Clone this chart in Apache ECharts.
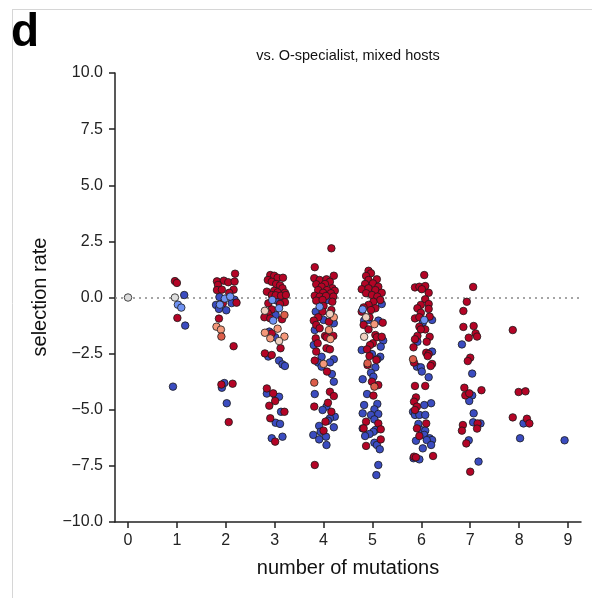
<!DOCTYPE html>
<html>
<head>
<meta charset="utf-8">
<script src="https://cdn.jsdelivr.net/npm/echarts@6/dist/echarts.min.js"></script>
<style>
html,body{margin:0;padding:0;background:#fff;}
#chart{width:592px;height:598px;}
</style>
</head>
<body>
<div id="chart"></div>
<script>
// x tick categories (number of mutations)
const xTicks = [0,1,2,3,4,5,6,7,8,9];
const yTicks = [-10,-7.5,-5,-2.5,0,2.5,5,7.5,10];

// points: [jittered number of mutations, selection rate], grouped by colour class
const redPts = [
[0.96,0.73],[1.0,0.65],[1.01,-0.91],
[2.19,1.06],[1.82,0.72],[1.96,0.75],[2.05,0.68],[2.18,0.71],[1.84,0.56],[1.82,0.33],[1.92,0.35],[2.16,0.35],[2.07,0.21],[2.22,-0.23],[1.94,-0.26],[1.86,-0.94],[2.16,-2.17],[1.91,-3.88],[2.14,-3.84],[2.06,-5.55],
[2.91,1.00],[2.99,0.97],[3.06,0.88],[3.17,0.88],[2.86,0.78],[2.94,0.70],[3.03,0.60],[3.11,0.54],[3.16,0.41],[2.84,0.26],[2.99,0.30],[3.06,0.23],[3.21,0.21],[2.94,0.11],[3.02,0.10],[3.13,0.08],[3.23,0.11],[3.21,-0.21],[2.87,-0.26],[3.11,-0.29],[2.94,-0.53],[2.86,-0.70],[2.79,-0.88],[2.91,-0.93],[3.15,-0.97],[2.94,-1.60],[3.12,-2.26],[2.80,-2.49],[2.94,-2.56],[2.84,-4.05],[2.97,-4.27],[3.01,-4.61],[2.89,-4.82],[3.20,-5.09],[2.91,-5.38],[3.01,-6.42],
[4.16,2.19],[3.82,1.35],[3.81,0.86],[4.21,0.97],[3.92,0.78],[4.06,0.81],[4.13,0.70],[3.85,0.59],[4.03,0.60],[3.96,0.48],[4.18,0.41],[3.89,0.33],[4.07,0.33],[4.23,0.30],[3.99,0.21],[4.15,0.19],[3.82,0.08],[3.92,0.04],[4.05,0.07],[4.20,0.04],[3.85,-0.14],[3.98,-0.11],[4.18,-0.19],[4.0,-0.38],[4.16,-0.56],[3.98,-0.63],[3.89,-0.88],[3.80,-1.03],[4.11,-1.08],[3.85,-1.22],[3.92,-1.37],[4.03,-1.71],[4.20,-1.71],[3.84,-1.82],[4.06,-1.77],[3.88,-2.04],[4.06,-2.26],[4.13,-2.31],[3.85,-2.41],[3.82,-2.81],[4.07,-3.30],[4.13,-4.20],[4.21,-4.39],[3.81,-4.86],[4.09,-4.69],[4.16,-5.09],[4.04,-5.53],[4.00,-5.93],[3.82,-7.46],
[4.92,1.19],[4.97,1.08],[4.87,0.96],[5.09,0.81],[4.92,0.78],[4.85,0.60],[5.01,0.63],[5.12,0.48],[4.78,0.37],[4.92,0.41],[5.06,0.33],[5.19,0.21],[4.87,0.19],[4.99,0.11],[5.10,0.04],[5.16,-0.11],[5.02,-0.19],[4.92,-0.33],[4.82,-0.44],[5.06,-0.48],[4.97,-0.56],[4.78,-0.63],[4.94,-0.88],[5.21,-1.12],[4.82,-1.22],[4.92,-1.42],[5.06,-1.67],[5.09,-1.77],[5.19,-1.75],[5.01,-2.04],[4.95,-2.12],[4.89,-2.31],[4.94,-2.61],[5.08,-2.78],[4.90,-3.01],[4.99,-3.75],[5.12,-3.90],[5.02,-4.37],[4.87,-5.53],[4.82,-5.83],[5.12,-5.61],[5.17,-5.87],[5.17,-6.32],[4.87,-6.61],
[6.06,1.00],[5.87,0.45],[5.96,0.48],[6.08,0.51],[6.01,0.37],[6.15,0.21],[6.08,-0.08],[6.15,-0.29],[5.99,-0.33],[5.92,-0.48],[6.15,-0.51],[5.99,-0.68],[5.87,-0.93],[6.17,-0.85],[5.96,-0.88],[5.96,-1.30],[6.08,-1.42],[5.99,-1.42],[5.92,-1.71],[6.17,-1.75],[5.87,-1.86],[6.11,-1.97],[5.84,-2.22],[6.10,-2.46],[6.15,-2.52],[6.13,-2.61],[5.85,-2.90],[6.22,-2.96],[6.19,-3.05],[5.87,-3.94],[6.08,-3.94],[5.89,-4.45],[5.85,-4.64],[5.91,-4.86],[5.87,-5.01],[6.10,-5.61],[5.91,-5.83],[5.96,-6.17],[5.85,-7.09],[5.89,-7.12],[6.24,-7.06],
[7.06,0.47],[6.93,-0.19],[6.86,-0.60],[6.86,-1.31],[7.07,-1.27],[6.97,-1.79],[7.11,-1.60],[7.14,-1.74],[7.00,-2.68],[6.95,-2.83],[6.88,-4.02],[6.90,-4.36],[6.98,-4.27],[7.23,-4.13],[6.85,-5.68],[6.83,-5.93],[7.15,-5.61],[7.14,-5.84],[6.92,-6.50],[7.00,-7.76],
[7.87,-1.45],[7.99,-4.21],[8.13,-4.18],[7.87,-5.34],[8.16,-5.40],[8.21,-5.61]
];
const bluePts = [
[1.17,-1.25],[0.92,-3.97],[1.15,0.11],
[1.87,0.02],[2.18,-0.10],[2.12,-0.25],[1.80,-0.33],[1.86,-0.51],[2.01,-0.57],[1.97,-3.81],[1.92,-4.02],[2.02,-4.71],
[3.05,-0.14],[3.16,-0.13],[3.02,-0.78],[2.89,-1.52],[3.01,-1.77],[2.87,-2.63],[3.09,-2.81],[3.16,-2.98],[3.21,-3.05],[2.84,-4.28],[3.02,-4.42],[3.09,-4.42],[3.13,-5.09],[3.02,-5.58],[3.11,-5.63],[2.94,-6.27],[3.16,-6.20],
[4.09,-0.11],[3.84,-0.63],[4.00,-1.00],[4.21,-1.15],[3.82,-1.45],[3.80,-2.12],[3.96,-2.64],[4.21,-2.75],[3.89,-2.90],[4.13,-2.89],[3.96,-3.08],[4.17,-3.41],[4.21,-3.75],[3.82,-4.30],[4.06,-4.86],[3.98,-5.01],[4.23,-5.31],[4.13,-5.38],[4.09,-5.49],[3.91,-5.72],[4.21,-5.78],[3.79,-6.12],[3.94,-5.98],[4.05,-6.20],[3.91,-6.32],[4.06,-6.57],
[5.19,-0.29],[4.83,-1.03],[4.92,-1.00],[5.12,-1.03],[5.22,-1.92],[5.17,-2.19],[4.78,-2.34],[4.99,-2.52],[5.16,-2.64],[5.10,-2.75],[5.06,-3.11],[4.97,-3.35],[4.80,-3.64],[5.02,-3.53],[4.89,-4.30],[4.83,-4.79],[5.10,-4.74],[5.04,-4.98],[4.80,-5.16],[4.97,-5.23],[5.12,-5.19],[5.04,-5.43],[5.06,-5.90],[5.02,-5.98],[4.80,-5.83],[4.94,-6.08],[4.85,-6.17],[5.04,-6.47],[5.09,-6.57],[5.15,-6.76],[5.12,-7.46],[5.08,-7.91],
[6.03,-1.12],[6.22,-1.00],[5.92,-1.97],[6.22,-2.41],[5.91,-3.08],[5.99,-3.11],[6.01,-3.30],[6.15,-3.55],[6.20,-4.71],[6.06,-4.79],[5.83,-5.09],[5.87,-5.23],[5.96,-5.23],[6.08,-5.23],[5.94,-5.63],[5.99,-5.90],[6.08,-5.93],[6.06,-6.12],[6.17,-6.27],[6.22,-6.35],[5.89,-6.38],[6.11,-6.35],[6.20,-6.57],[6.03,-6.72],[5.96,-7.21],[5.84,-7.16],
[6.83,-2.09],[7.04,-3.39],[7.04,-4.36],[6.98,-4.61],[7.07,-5.16],[7.06,-5.56],[7.21,-5.61],[6.97,-6.36],[7.17,-7.31],
[8.09,-5.61],[8.02,-6.27],
[8.93,-6.36]
];
const lightBluePts = [[1.02,-0.32],[1.09,-0.45],[1.98,-0.05],[2.09,0.04],[1.88,-0.32],[2.95,-0.11],[3.09,-0.48],[2.97,-1.03],[3.92,-0.41],[4.80,-0.53],[6.06,-1.00]];
const salmonPts = [[1.81,-1.30],[1.90,-1.43],[3.06,-1.39],[2.80,-1.57],[3.20,-1.74],[2.91,-1.82],[4.21,-0.88],[4.11,-1.45],[4.14,-1.85],[4.00,-2.96],[5.04,-1.19]];
const orangePts = [[1.91,-1.74],[3.20,-0.78],[3.81,-3.79],[4.90,-2.93],[5.04,-3.97],[5.83,-2.75]];
const palePts = [[2.80,-0.59],[3.09,-1.94],[4.13,-0.73],[4.87,-0.88],[4.83,-1.75]];
const grayPts = [[0,0],[0.96,0.0]];

const FONT = '"Liberation Sans", Arial, Helvetica, sans-serif';

function mk(name, data, color, z) {
  return {
    name: name, type: 'scatter', data: data, symbol: 'circle', symbolSize: 7.5, z: z,
    itemStyle: {color: color, borderColor: '#1a1a1a', borderWidth: 0.8, opacity: 1},
    emphasis: {disabled: true}, silent: true, animation: false
  };
}

const chart = echarts.init(document.getElementById('chart'), null, {renderer: 'canvas'});
const fmtY = v => (v < 0 ? '\u2212' + Math.abs(v).toFixed(1) : v.toFixed(1));

chart.setOption({
  animation: false,
  backgroundColor: '#ffffff',
  grid: {left: 115, right: 11, top: 73, bottom: 76, containLabel: false},
  xAxis: {
    type: 'value', min: -0.266, max: 9.266,
    splitLine: {show: false},
    axisLine: {show: true, onZero: false, lineStyle: {color: '#222', width: 1.5}},
    axisTick: {show: true, length: 6, customValues: xTicks, lineStyle: {color: '#222', width: 1.5}},
    axisLabel: {show: true, customValues: xTicks, margin: 11, fontSize: 16, color: '#222', fontFamily: FONT}
  },
  yAxis: {
    type: 'value', min: -10, max: 10, interval: 2.5,
    splitLine: {show: false},
    axisLine: {show: true, onZero: false, lineStyle: {color: '#222', width: 1.5}},
    axisTick: {show: true, length: 6, lineStyle: {color: '#222', width: 1.5}},
    axisLabel: {show: true, margin: 12, fontSize: 16, color: '#222', fontFamily: FONT, formatter: fmtY}
  },
  series: [
    Object.assign(mk('blue', bluePts, '#3b4cc0', 3), {
      markLine: {
        silent: true, symbol: ['none','none'], z: 1,
        label: {show: false},
        lineStyle: {color: '#888', type: [2, 4], width: 1.6},
        data: [{yAxis: 0}]
      }
    }),
    mk('red', redPts, '#b40426', 4),
    mk('lightblue', lightBluePts, '#6f92f3', 5),
    mk('salmon', salmonPts, '#f4987a', 5),
    mk('orange', orangePts, '#dc5d4a', 5),
    mk('pale', palePts, '#efcfbf', 5),
    mk('gray', grayPts, '#dddddd', 5)
  ],
  graphic: [
    {type: 'line', shape: {x1: 12, y1: 9.5, x2: 592, y2: 9.5}, style: {stroke: '#d6d6d6', lineWidth: 1}, silent: true},
    {type: 'line', shape: {x1: 12.5, y1: 9, x2: 12.5, y2: 598}, style: {stroke: '#d6d6d6', lineWidth: 1}, silent: true},
    {type: 'text', left: 11, top: 10, style: {text: 'd', font: 'bold 46px ' + FONT, fill: '#000'}, silent: true},
    {type: 'text', x: 348, y: 56, style: {text: 'vs. O-specialist, mixed hosts', font: '14.5px ' + FONT, fill: '#111', textAlign: 'center', textVerticalAlign: 'middle'}, silent: true},
    {type: 'text', x: 348, y: 568, style: {text: 'number of mutations', font: '20px ' + FONT, fill: '#111', textAlign: 'center', textVerticalAlign: 'middle'}, silent: true},
    {type: 'text', x: 40, y: 297, rotation: Math.PI / 2, style: {text: 'selection rate', font: '20px ' + FONT, fill: '#111', textAlign: 'center', textVerticalAlign: 'middle'}, silent: true}
  ]
});
</script>
</body>
</html>
